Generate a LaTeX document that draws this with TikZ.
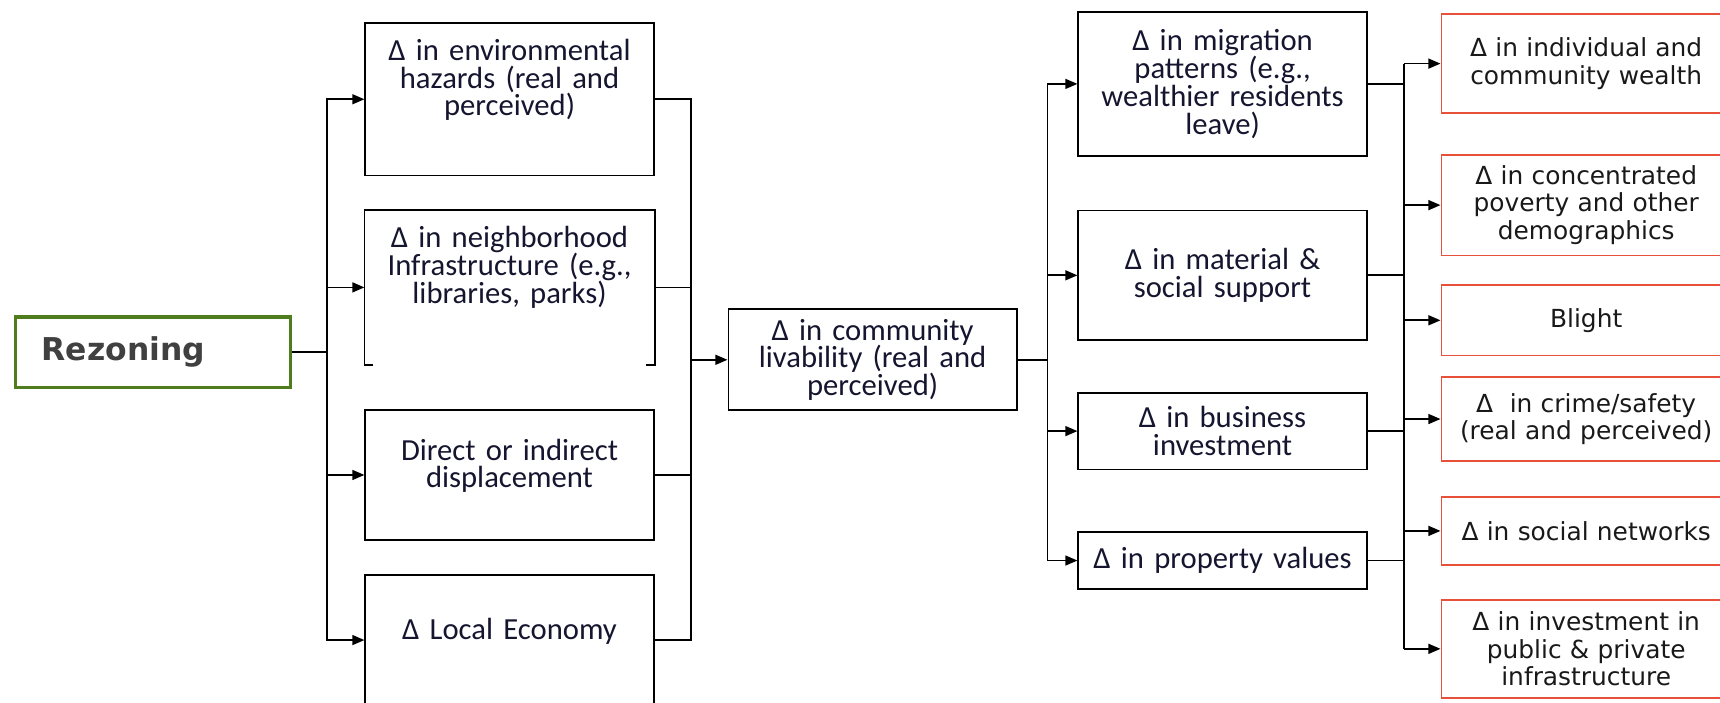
\documentclass[tikz,border=0pt]{standalone}
\usepackage{fontspec}
\setmainfont{Carlito}
\newfontfamily\verdfont{DejaVu Sans}
\usetikzlibrary{arrows.meta,positioning}
\definecolor{RezGreen}{HTML}{4F7D1E}
\definecolor{RezRed}{HTML}{E8503A}
\definecolor{RezInk}{HTML}{151530}
\definecolor{RezGrey}{HTML}{404040}

\begin{document}
\begin{tikzpicture}[
    cbox/.style={
      draw,
      line width=0.9pt,
      minimum width=5.26cm,
      text width=5.0cm,
      align=center,
      inner sep=0.13cm,
      text=RezInk,
      font=\fontsize{15.9}{14.4}\selectfont
    },
    framebox/.style={
      draw,
      line width=0.9pt,
      minimum width=5.26cm
    },
    boxtext/.style={
      text width=5.0cm,
      align=center,
      inner sep=0pt,
      text=RezInk,
      font=\fontsize{15.9}{14.4}\selectfont
    },
    rbox/.style={
      draw=RezRed,
      line width=0.9pt,
      minimum width=5.28cm,
      text width=5.0cm,
      align=center,
      inner sep=0.13cm,
      text=black!90,
      font=\verdfont\fontsize{12.9}{14.2}\selectfont
    },
    link/.style={line width=0.9pt},
    arrow/.style={
      -{Triangle[length=0.22cm,width=0.18cm]},
      line width=0.9pt
    }]

    \useasboundingbox (0,0) rectangle (31.36,-12.80);
    \clip (0,0) rectangle (31.36,-12.80);

    % Start
    \node[draw=RezGreen,line width=1.7pt,minimum width=5.02cm,minimum height=1.28cm,
          text width=4.06cm,inner xsep=0.48cm,align=left,text=RezGrey,
          font=\verdfont\bfseries\fontsize{16.3}{18}\selectfont] (rez) at (2.79,-6.42) {Rezoning};

    % First column
    \node[framebox,minimum height=2.78cm] (env) at (9.29,-1.81) {};
    \node[boxtext,below=0.30cm of env.north] (envtxt) {Δ in environmental\\hazards (real and\\perceived)};
    \node[framebox,draw=none,minimum height=2.80cm] (neigh) at (9.29,-5.24) {};
    \node[boxtext,below=0.30cm of neigh.north] (neightxt) {Δ in neighborhood\\Infrastructure (e.g.,\\libraries, parks)};
    \node[framebox,minimum height=2.36cm] (disp) at (9.29,-8.66) {};
    \node[boxtext,below=0.53cm of disp.north] (disptxt) {Direct or indirect\\displacement};
    \node[framebox,minimum height=2.38cm] (econ) at (9.29,-11.67) {};
    \node[boxtext,below=0.80cm of econ.north] (econtxt) {Δ Local Economy};

    % open frame of the neighborhood box
    \draw[link] ([xshift=0.16cm]neigh.south west) -- (neigh.south west) -- (neigh.north west)
      -- (neigh.north east) -- (neigh.south east) -- ([xshift=-0.16cm]neigh.south east);

    % Middle
    \node[cbox,minimum height=1.84cm] (comm) at (15.91,-6.56) {Δ in community\\livability (real and\\perceived)};

    % Second column
    \node[cbox,minimum height=2.62cm] (mig) at (22.29,-1.53) {Δ in migration\\patterns (e.g.,\\wealthier residents\\leave)};
    \node[cbox,minimum height=2.36cm] (mat) at (22.29,-5.02) {Δ in material \&\\social support};
    \node[cbox,minimum height=1.40cm] (busi) at (22.29,-7.86) {Δ in business\\investment};
    \node[cbox,minimum height=1.04cm] (prop) at (22.29,-10.22) {Δ in property values};

    % Outcomes
    \node[rbox,minimum height=1.80cm] (wealth) at (28.92,-1.16) {Δ in individual and\\community wealth};
    \node[rbox,minimum height=1.84cm] (poverty) at (28.92,-3.74) {Δ in concentrated\\poverty and other\\demographics};
    \node[rbox,minimum height=1.28cm] (blight) at (28.92,-5.84) {Blight};
    \node[rbox,minimum height=1.52cm] (crime) at (28.92,-7.64) {Δ~ in crime/safety\\(real and perceived)};
    \node[rbox,minimum height=1.24cm] (social) at (28.92,-9.68) {Δ in social networks};
    \node[rbox,minimum height=1.78cm] (invest) at (28.92,-11.83) {Δ in investment in\\public \& private\\infrastructure};

    % Bus lines
    \coordinate (busA) at (5.96,0);
    \coordinate (busB) at (12.60,-6.56);
    \coordinate (busC) at (19.10,0);
    \coordinate (busD) at (25.60,0);

    % Rezoning to first column
    \foreach \n in {env,neigh,disp,econ}
      \draw[arrow] (rez.east) -- (rez.east -| busA) |- (\n.west);

    % First column to community livability
    \foreach \n in {env,neigh,disp,econ}
      \draw[link] (\n.east) -| (busB);
    \draw[arrow] (busB) -- (comm.west);

    % Community livability to second column
    \foreach \n in {mig,mat,busi,prop}
      \draw[arrow] (comm.east) -- (comm.east -| busC) |- (\n.west);

    % Second column to outcomes
    \draw[link] (wealth.west -| busD) -- (invest.west -| busD);
    \foreach \n in {mig,mat,busi,prop}
      \draw[link] (\n.east) -- (\n.east -| busD);
    \foreach \n in {wealth,poverty,blight,crime,social,invest}
      \draw[arrow] (\n.west -| busD) -- (\n.west);
  \end{tikzpicture}
\end{document}
